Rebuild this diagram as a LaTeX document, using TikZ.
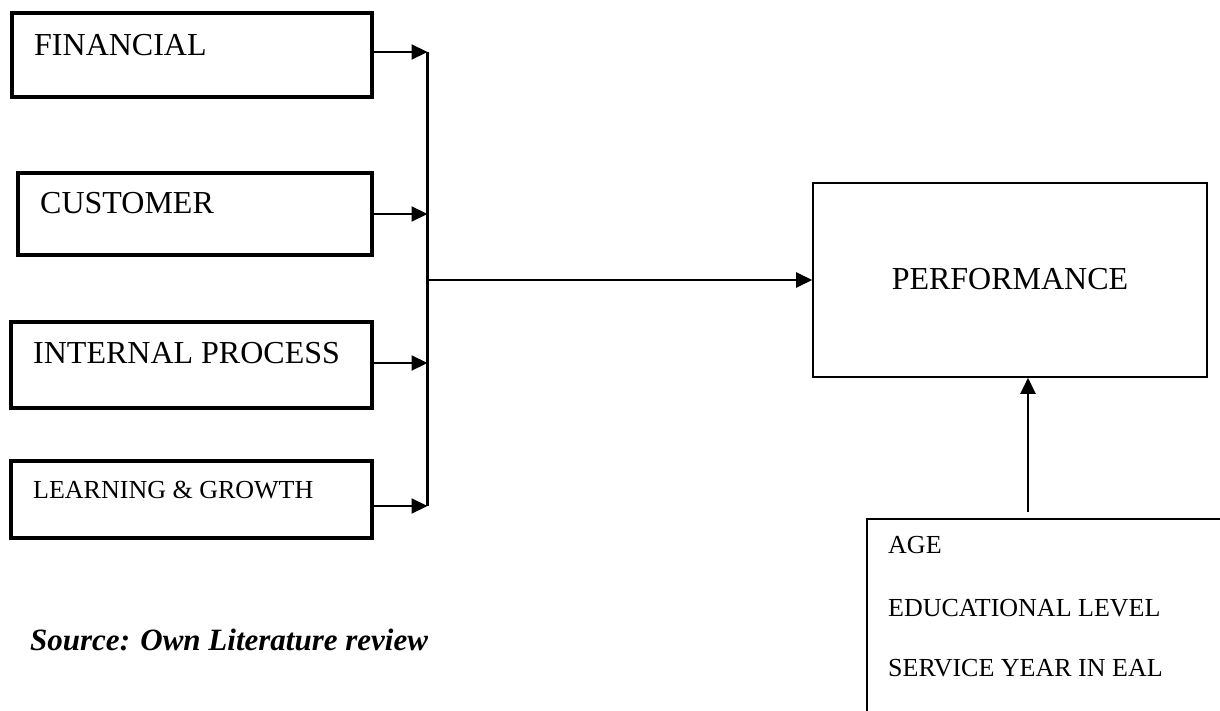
\documentclass[tikz,border=0pt]{standalone}
\usepackage{fontspec}
\setmainfont{Liberation Serif}
\usetikzlibrary{arrows.meta}
\tikzset{
  thickbox/.style={draw, line width=4.5pt, rectangle, inner sep=0pt},
  thinbox/.style={draw, line width=1.6pt, rectangle, inner sep=0pt},
  lbl/.style={anchor=base west, inner sep=0pt, font=\fontsize{32}{36}\selectfont},
  smalllbl/.style={anchor=base west, inner sep=0pt, font=\fontsize{26}{30}\selectfont},
  arr/.style={line width=2.2pt, -{Triangle[length=16pt,width=15pt]}},
  plain/.style={line width=2.2pt}
}
\begin{document}
\begin{tikzpicture}[x=1pt,y=-1pt]
\useasboundingbox (0,0) rectangle (1220,711);
\clip (0,0) rectangle (1220,711);
\fill[white] (0,0) rectangle (1220,711);
% left boxes
\node[thickbox, minimum width=360pt, minimum height=84pt] (fin) at (192,55) {};
\node[thickbox, minimum width=354pt, minimum height=82pt] (cus) at (195,214) {};
\node[thickbox, minimum width=361pt, minimum height=86pt] (int) at (191.5,365) {};
\node[thickbox, minimum width=361pt, minimum height=77pt] (lea) at (191.5,499.5) {};
\node[lbl] (fint) at (34,56) {FINANCIAL};
\node[lbl] (cust) at (40,214) {CUSTOMER};
\node[lbl] (intt) at (33,363) {INTERNAL PROCESS};
\node[smalllbl] (leat) at (33,498) {LEARNING \& GROWTH};
% junction coordinates
\coordinate (j1) at (427.5,52);
\coordinate (j2) at (427.5,214);
\coordinate (j3) at (427.5,363);
\coordinate (j4) at (427.5,506);
\coordinate (jm) at (427.5,280);
\draw[arr] (fin.east |- j1) -- (j1);
\draw[arr] (cus.east |- j2) -- (j2);
\draw[arr] (int.east |- j3) -- (j3);
\draw[arr] (lea.east |- j4) -- (j4);
\draw[plain] (j1) -- (j4);
% performance
\node[thinbox, minimum width=394pt, minimum height=194pt] (perf) at (1010,280) {};
\node[anchor=base, inner sep=0pt, font=\fontsize{32}{36}\selectfont] (perft) at (1010,290) {PERFORMANCE};
\draw[arr] (jm) -- (perf.west);
% factors box
\node[thinbox, minimum width=420pt, minimum height=300pt] (fac) at (1077,669) {};
\node[smalllbl] (age) at (888,553) {AGE};
\node[smalllbl] (edu) at (888,616) {EDUCATIONAL LEVEL};
\node[smalllbl] (ser) at (888,676) {SERVICE YEAR IN EAL};
\coordinate (up) at (1028,512);
\draw[arr] (up) -- (perf.south -| up);
% source
\node[anchor=base west, inner sep=0pt, font=\fontsize{31}{35}\selectfont\bfseries\itshape] (src) at (30,650) {Source: Own Literature review};
\end{tikzpicture}
\end{document}
